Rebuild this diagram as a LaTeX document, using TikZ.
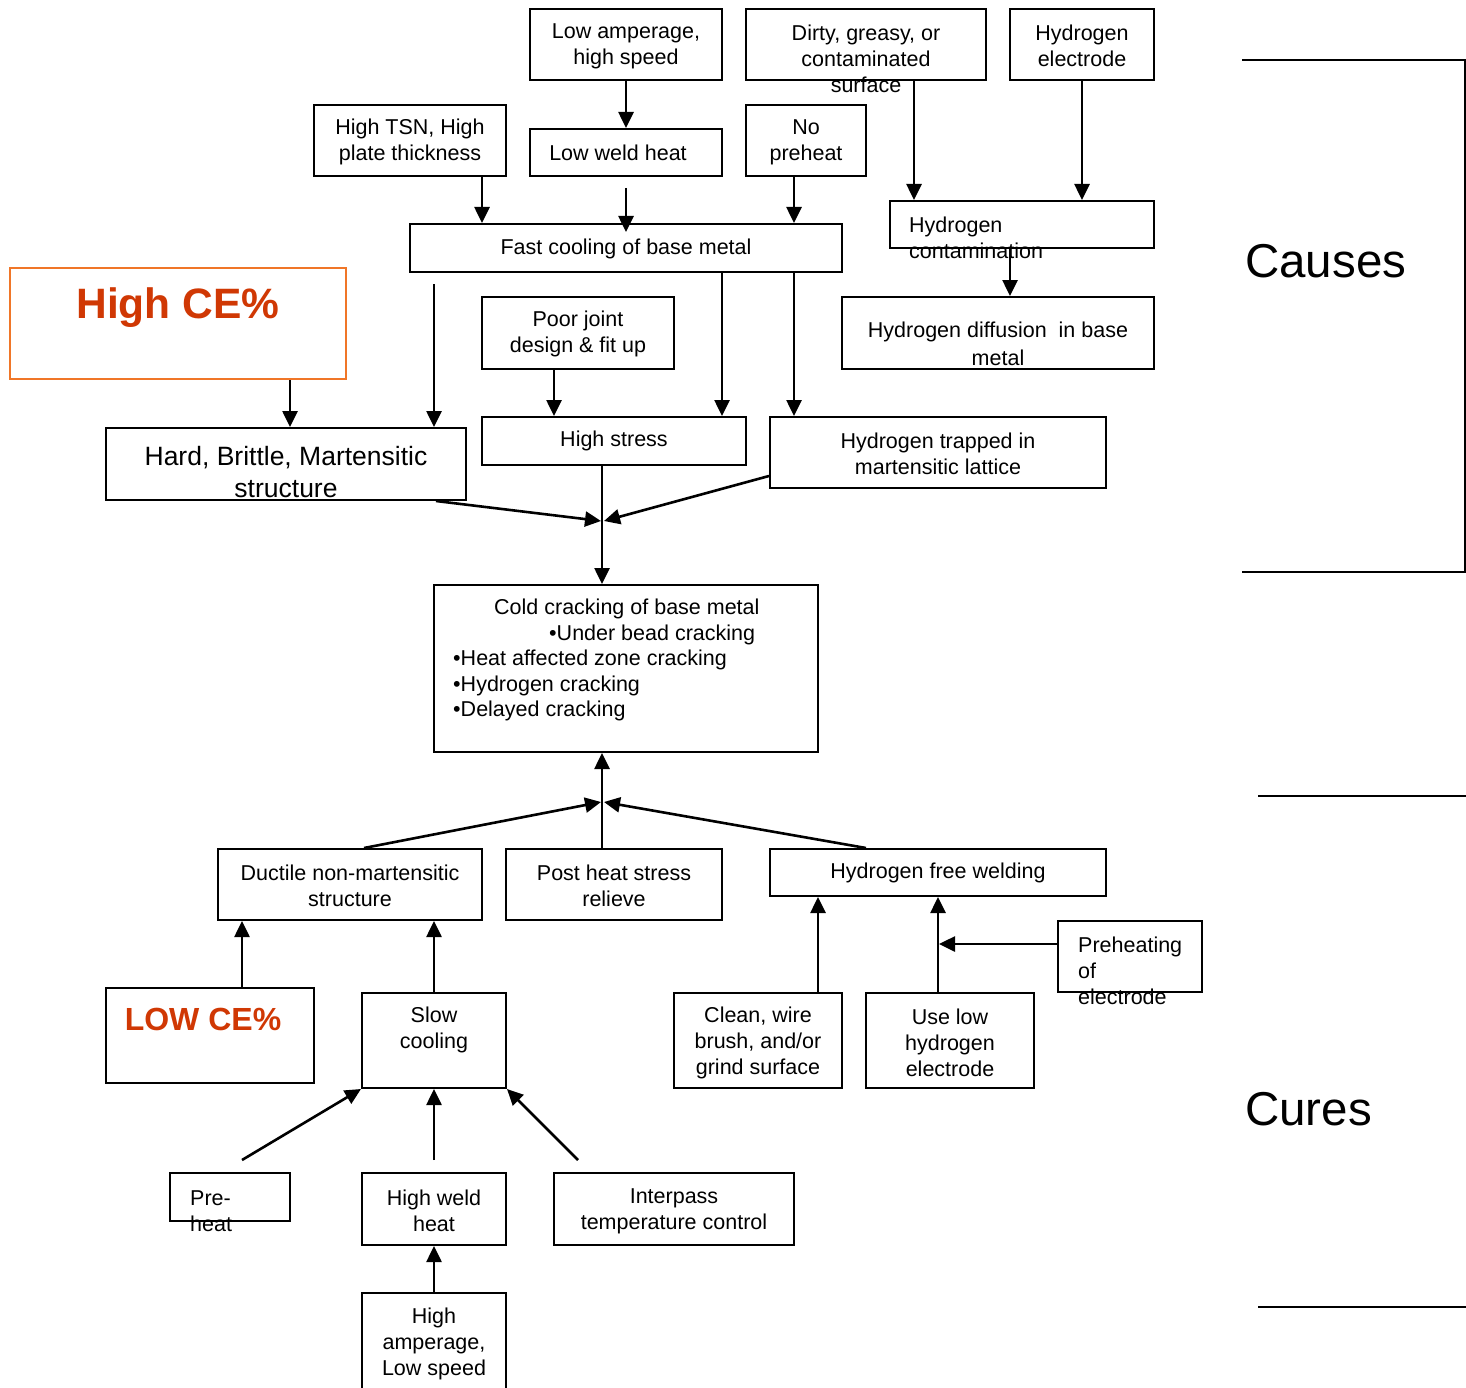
\documentclass[tikz,border=0pt]{standalone}
\usepackage{fontspec}
\setmainfont{Liberation Sans}
\usetikzlibrary{arrows.meta,fit,calc}
\definecolor{ceorange}{RGB}{240,118,40}
\definecolor{cered}{RGB}{208,56,4}
\newcommand\fsN{\fontsize{21.5}{26}\selectfont}
\begin{document}
\begin{tikzpicture}[x=1pt,y=-1pt,
  box/.style={draw, line width=2pt, inner sep=0pt},
  txt/.style={inner sep=0pt, align=center, font=\fsN},
  ltxt/.style={inner sep=0pt, align=left, anchor=west, font=\fsN},
  arr/.style={line width=2.6pt, -{Triangle[length=16pt,width=15pt]}},
  ln/.style={line width=2pt}]
\path[use as bounding box, fill=white] (0,0) rectangle (1466,1388);

% ---------- boxes ----------
\node[box, fit={(530,9) (722,80)}] (lowamp) {};
\node[box, fit={(746,9) (986,80)}] (dirty) {};
\node[box, fit={(1010,9) (1154,80)}] (hyelec) {};
\node[box, fit={(314,105) (506,176)}] (hightsn) {};
\node[box, fit={(530,129) (722,176)}] (lowweld) {};
\node[box, fit={(746,105) (866,176)}] (nopreheat) {};
\node[box, fit={(410,224) (842,272)}] (fastcool) {};
\node[box, fit={(890,201) (1154,248)}] (hycont) {};
\node[box, fit={(842,297) (1154,369)}] (hydiff) {};
\node[draw=ceorange, line width=2pt, inner sep=0pt, fit={(10,268) (346,379)}] (highce) {};
\node[box, fit={(482,297) (674,369)}] (poorjoint) {};
\node[box, fit={(106,428) (466,500)}] (hard) {};
\node[box, fit={(482,417) (746,465)}] (highstress) {};
\node[box, fit={(770,417) (1106,488)}] (hytrap) {};
\node[box, fit={(434,585) (818,752)}] (cold) {};
\node[box, fit={(218,849) (482,920)}] (ductile) {};
\node[box, fit={(506,849) (722,920)}] (postheat) {};
\node[box, fit={(770,849) (1106,896)}] (hfree) {};
\node[box, fit={(106,988) (314,1083)}] (lowce) {};
\node[box, fit={(362,993) (506,1088)}] (slow) {};
\node[box, fit={(674,993) (842,1088)}] (clean) {};
\node[box, fit={(866,993) (1034,1088)}] (uselow) {};
\node[box, fit={(1058,921) (1202,992)}] (preheating) {};
\node[box, fit={(170,1173) (290,1221)}] (pre) {};
\node[box, fit={(362,1173) (506,1245)}] (highweld) {};
\node[box, fit={(554,1173) (794,1245)}] (interpass) {};
\node[box, fit={(362,1293) (506,1400)}] (highamp) {};

% ---------- texts ----------
\node[txt] (lowamp-t) at (626,46) {Low amperage,\\high speed};
\node[txt] (dirty-t) at (866,59) {Dirty, greasy, or\\contaminated\\surface};
\node[txt] (hyelec-t) at (1082,46) {Hydrogen\\electrode};
\node[txt] (hightsn-t) at (410,142) {High TSN, High\\plate thickness};
\node[txt] (lowweld-t) at (618,153) {Low weld heat};
\node[txt] (nopreheat-t) at (806,142) {No\\preheat};
\node[txt] (fastcool-t) at (626,249) {Fast cooling of base metal};
\node[ltxt] (hycont-t) at (909,238) {Hydrogen\\contamination};
\node[inner sep=0pt, align=center, font=\fontsize{21.5}{28}\selectfont] (hydiff-t) at (998,344) {Hydrogen diffusion\ \ in base\\metal};
\node[inner sep=0pt, font=\bfseries\fontsize{42.5}{50}\selectfont, text=cered] (highce-t) at (178,308) {High CE\%};
\node[txt] (poorjoint-t) at (578,334) {Poor joint\\design \& fit up};
\node[inner sep=0pt, align=center, font=\fontsize{26.5}{32}\selectfont] (hard-t) at (286,472) {Hard, Brittle, Martensitic\\structure};
\node[txt] (highstress-t) at (614,441) {High stress};
\node[txt] (hytrap-t) at (938,454) {Hydrogen trapped in\\martensitic lattice};
\node[inner sep=0pt, align=left, anchor=west, font=\fontsize{21.5}{25.5}\selectfont] (cold-t) at (453,660)
  {\hspace*{41pt}Cold cracking of base metal\\
   \hspace*{96pt}•Under bead cracking\\
   •Heat affected zone cracking\\
   •Hydrogen cracking\\
   •Delayed cracking};
\node[txt] (ductile-t) at (350,886) {Ductile non-martensitic\\structure};
\node[txt] (postheat-t) at (614,886) {Post heat stress\\relieve};
\node[txt] (hfree-t) at (938,873) {Hydrogen free welding};
\node[inner sep=0pt, font=\bfseries\fontsize{32}{38}\selectfont, text=cered] (lowce-t) at (203,1019) {LOW CE\%};
\node[txt] (slow-t) at (434,1030) {Slow\\cooling};
\node[txt] (clean-t) at (758,1043) {Clean, wire\\brush, and/or\\grind surface};
\node[txt] (uselow-t) at (950,1043) {Use low\\hydrogen\\electrode};
\node[ltxt] (preheating-t) at (1078,971) {Preheating\\of\\electrode};
\node[ltxt] (pre-t) at (190,1211) {Pre-\\heat};
\node[txt] (highweld-t) at (434,1211) {High weld\\heat};
\node[txt] (interpass-t) at (674,1211) {Interpass\\temperature control};
\node[txt] (highamp-t) at (434,1344) {High\\amperage,\\Low speed};

% ---------- side labels ----------
\draw[ln] (1242,60) -- (1465,60) -- (1465,572) -- (1242,572);
\draw[ln] (1258,796) -- (1466,796);
\draw[ln] (1258,1307) -- (1466,1307);
\node[anchor=west, inner sep=0pt, font=\fontsize{47.5}{56}\selectfont] (causes) at (1245,261) {Causes};
\node[anchor=west, inner sep=0pt, font=\fontsize{47.5}{56}\selectfont] (cures) at (1245,1109) {Cures};

% ---------- connectors (causes) ----------
\coordinate (c1) at (626,188);
\coordinate (c2) at (434,284);
\coordinate (m1l) at (601,521);
\coordinate (m1r) at (604,521);
\draw[arr] (lowamp.south) -- (lowweld.north);
\draw[arr] (c1) -- ([yshift=-9pt]fastcool.north);
\draw[arr] (482,0 |- hightsn.south) -- (482,0 |- fastcool.north);
\draw[arr] (794,0 |- nopreheat.south) -- (794,0 |- fastcool.north);
\draw[arr] (914,0 |- dirty.south) -- (914,0 |- hycont.north);
\draw[arr] (1082,0 |- hyelec.south) -- (1082,0 |- hycont.north);
\draw[arr] (1010,0 |- hycont.south) -- (1010,0 |- hydiff.north);
\draw[arr] (c2) -- (434,0 |- hard.north);
\draw[arr] (290,0 |- highce.south) -- (290,0 |- hard.north);
\draw[arr] (554,0 |- poorjoint.south) -- (554,0 |- highstress.north);
\draw[arr] (722,0 |- fastcool.south) -- (722,0 |- highstress.north);
\draw[arr] (794,0 |- fastcool.south) -- (794,0 |- hytrap.north);
\draw[arr] (602,0 |- highstress.south) -- (602,0 |- cold.north);
\draw[arr] (436,0 |- hard.south) -- (m1l);
\draw[arr] (hytrap.west |- 0,476) -- (m1r);

% ---------- connectors (cures) ----------
\coordinate (m2l) at (601,802);
\coordinate (m2r) at (604,802);
\coordinate (j1) at (939,944);
\coordinate (p1) at (242,1160);
\coordinate (p2) at (434,1160);
\coordinate (p3) at (578,1160);
\draw[arr] (602,0 |- postheat.north) -- (602,0 |- cold.south);
\draw[arr] (364,0 |- ductile.north) -- (m2l);
\draw[arr] (866,0 |- hfree.north) -- (m2r);
\draw[arr] (242,0 |- lowce.north) -- (242,0 |- ductile.south);
\draw[arr] (slow.north) -- (434,0 |- ductile.south);
\draw[arr] (818,0 |- clean.north) -- (818,0 |- hfree.south);
\draw[arr] (938,0 |- uselow.north) -- (938,0 |- hfree.south);
\draw[arr] (preheating.west |- 0,944) -- (j1);
\draw[arr] (p1) -- (slow.south west);
\draw[arr] (p2) -- (slow.south);
\draw[arr] (p3) -- (slow.south east);
\draw[arr] (highamp.north) -- (highweld.south);
\end{tikzpicture}
\end{document}
